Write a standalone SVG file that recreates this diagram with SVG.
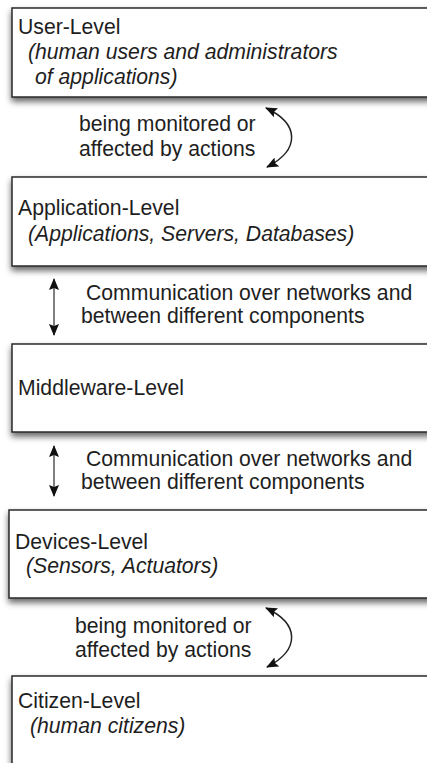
<svg xmlns="http://www.w3.org/2000/svg" width="427" height="763" viewBox="0 0 427 763">
<defs>
<style>
.box{fill:#fff;stroke:#2a2a2a;stroke-width:1.5;filter:url(#sh)}
.t{font-family:"Liberation Sans",Arial,sans-serif;font-size:21.2px;fill:#1e1e1e}
.i{font-style:italic}
.c{fill:none;stroke:#222;stroke-width:1.5}
.v{fill:none;stroke:#555;stroke-width:1.5}
</style>
<filter id="sh" x="-5%" y="-10%" width="110%" height="130%">
<feDropShadow dx="0" dy="4" stdDeviation="3" flood-color="#000" flood-opacity="0.6"/>
</filter>
<marker id="ah" viewBox="0 0 12 10" refX="11" refY="5" markerWidth="12" markerHeight="10" markerUnits="userSpaceOnUse" orient="auto-start-reverse">
<path d="M0,0 L12,5 L0,10 L2,5 Z" fill="#111"/>
</marker>
</defs>
<g id="user-level">
<rect class="box" x="12" y="8" width="430" height="89"/>
<text class="t" x="18" y="34">User-Level</text>
<text class="t i" x="28" y="59">(human users and administrators</text>
<text class="t i" x="35" y="84">of applications)</text>
</g>
<g id="application-level">
<rect class="box" x="12" y="177" width="430" height="89"/>
<text class="t" x="18" y="215">Application-Level</text>
<text class="t i" x="28" y="241">(Applications, Servers, Databases)</text>
</g>
<g id="middleware-level">
<rect class="box" x="12" y="344" width="430" height="88"/>
<text class="t" x="18" y="395">Middleware-Level</text>
</g>
<g id="devices-level">
<rect class="box" x="9" y="510" width="430" height="88"/>
<text class="t" x="15" y="549">Devices-Level</text>
<text class="t i" x="26" y="573">(Sensors, Actuators)</text>
</g>
<g id="citizen-level">
<rect class="box" x="12" y="676" width="430" height="100"/>
<text class="t" x="18" y="708">Citizen-Level</text>
<text class="t i" x="30" y="733">(human citizens)</text>
</g>
<g id="connectors">
<path class="c" d="M266,108 C300,124 300,150 267,167" marker-start="url(#ah)" marker-end="url(#ah)"/>
<text class="t" x="79" y="131">being monitored or</text>
<text class="t" x="79" y="156">affected by actions</text>
<line class="v" x1="54" y1="279" x2="54" y2="335" marker-start="url(#ah)" marker-end="url(#ah)"/>
<text class="t" x="86" y="300">Communication over networks and</text>
<text class="t" x="81" y="323">between different components</text>
<line class="v" x1="54" y1="446" x2="54" y2="496" marker-start="url(#ah)" marker-end="url(#ah)"/>
<text class="t" x="86" y="466">Communication over networks and</text>
<text class="t" x="81" y="489">between different components</text>
<path class="c" d="M266,608 C300,624 300,650 267,667" marker-start="url(#ah)" marker-end="url(#ah)"/>
<text class="t" x="75" y="633">being monitored or</text>
<text class="t" x="75" y="657">affected by actions</text>
</g>
</svg>
